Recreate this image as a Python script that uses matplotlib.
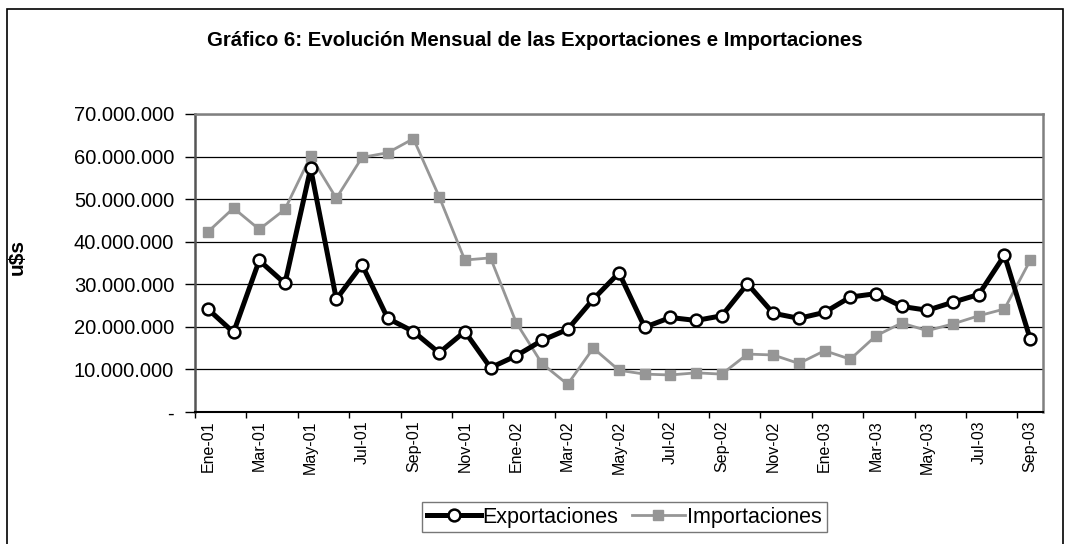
import matplotlib
matplotlib.use("Agg")
import matplotlib.pyplot as plt
from matplotlib.ticker import FuncFormatter, FixedLocator
from matplotlib.patches import Rectangle

plt.rcParams['font.family'] = ['Liberation Sans', 'DejaVu Sans']

months = ["Ene-01", "Feb-01", "Mar-01", "Abr-01", "May-01", "Jun-01", "Jul-01", "Ago-01",
          "Sep-01", "Oct-01", "Nov-01", "Dic-01",
          "Ene-02", "Feb-02", "Mar-02", "Abr-02", "May-02", "Jun-02", "Jul-02", "Ago-02",
          "Sep-02", "Oct-02", "Nov-02", "Dic-02",
          "Ene-03", "Feb-03", "Mar-03", "Abr-03", "May-03", "Jun-03", "Jul-03", "Ago-03",
          "Sep-03"]

exportaciones = [24.2, 18.7, 35.6, 30.2, 57.2, 26.5, 34.6, 22.0, 18.9, 13.9, 18.9, 10.4,
                 13.2, 16.8, 19.4, 26.5, 32.7, 19.9, 22.2, 21.5, 22.6, 30.1, 23.2, 22.0,
                 23.4, 27.0, 27.8, 24.8, 23.9, 25.8, 27.6, 36.8, 17.2]
importaciones = [42.3, 47.9, 42.9, 47.6, 60.1, 50.2, 59.8, 60.9, 64.2, 50.6, 35.7, 36.2,
                 21.0, 11.4, 6.5, 15.0, 9.8, 8.9, 8.7, 9.2, 8.9, 13.6, 13.4, 11.4,
                 14.4, 12.4, 17.9, 20.9, 19.1, 20.7, 22.6, 24.2, 35.6]
exportaciones = [v * 1e6 for v in exportaciones]
importaciones = [v * 1e6 for v in importaciones]

y_ticks = [0, 10e6, 20e6, 30e6, 40e6, 50e6, 60e6, 70e6]

W, H = 1066, 544
fig = plt.figure(figsize=(W / 100, H / 100), dpi=100)
ax = fig.add_axes([195 / W, 1 - 412 / H, (1043 - 195) / W, (412 - 114) / H])

x = list(range(len(months)))
ax.plot(x, importaciones, color='#969696', lw=2.0, marker='s', ms=7.5,
        mfc='#969696', mec='#969696', label='Importaciones', zorder=3)
ax.plot(x, exportaciones, color='black', lw=3.6, marker='o', ms=8.5,
        mfc='white', mec='black', mew=1.8, label='Exportaciones', zorder=4)

ax.set_xlim(-0.5, len(months) - 0.5)
ax.set_ylim(0, 70e6)
ax.set_yticks(y_ticks)
ax.yaxis.set_major_formatter(FuncFormatter(
    lambda v, p: '-' if v == 0 else f"{int(v):,}".replace(',', '.')))
ax.grid(axis='y', color='black', lw=0.9)
ax.set_axisbelow(True)

major = [i - 0.5 for i in range(0, len(months), 2)]
ax.xaxis.set_major_locator(FixedLocator(major))
ax.xaxis.set_major_formatter(FuncFormatter(lambda v, p: ''))
label_pos = list(range(0, len(months), 2))
ax.xaxis.set_minor_locator(FixedLocator(label_pos))
ax.set_xticklabels([months[i] for i in label_pos], minor=True, rotation=90, fontsize=11.5)
ax.tick_params(axis='x', which='major', direction='out', length=4.5, width=1, color='black')
ax.tick_params(axis='x', which='minor', length=0, pad=6)
ax.tick_params(axis='y', direction='out', length=7, width=1, color='black', labelsize=14.5, pad=8)

for s in ['top', 'right']:
    ax.spines[s].set_color('#808080')
    ax.spines[s].set_linewidth(1.8)
ax.spines['left'].set_color('#555555')
ax.spines['left'].set_linewidth(1.8)
ax.spines['bottom'].set_color('black')
ax.spines['bottom'].set_linewidth(1.5)

ax.set_ylabel('u$s', fontsize=15, fontweight='bold')
ax.yaxis.set_label_coords(27 / W, 1 - 257 / H, transform=fig.transFigure)

fig.text(535 / W, 1 - 40 / H,
         'Gráfico 6: Evolución Mensual de las Exportaciones e Importaciones',
         ha='center', va='center', fontsize=14.7, fontweight='bold')

h, l = ax.get_legend_handles_labels()
leg = fig.legend(h[::-1], l[::-1], loc='center', bbox_to_anchor=(624.5 / W, 1 - 517 / H),
                 ncol=2, fontsize=15.5, frameon=True, fancybox=False, handlelength=2.5,
                 handletextpad=0.1, columnspacing=0.6, borderpad=0.2, borderaxespad=0)
leg.get_frame().set_edgecolor('#555555')
leg.get_frame().set_linewidth(1.0)

fig.patches.append(Rectangle((7 / W, -0.05), (1063 - 7) / W, (1 - 9 / H) + 0.05,
                             transform=fig.transFigure, fill=False, ec='black', lw=1.2))

fig.savefig('out.png', dpi=100)
